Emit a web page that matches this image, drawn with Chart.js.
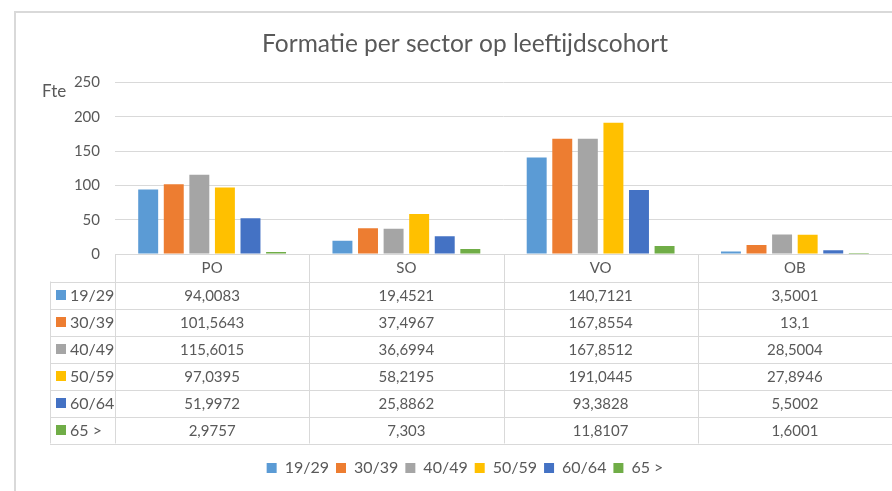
<!DOCTYPE html>
<html>
<head>
<meta charset="utf-8">
<script src="https://cdn.jsdelivr.net/npm/chart.js@4.4.1/dist/chart.umd.min.js"></script>
<style>
  html, body { margin: 0; padding: 0; background: #fff; overflow: hidden; width: 892px; height: 491px; }
  #frame { position: absolute; left: 14px; top: 11px; width: 1000px; height: 1000px;
           border-left: 2px solid #d9d9d9; border-top: 2px solid #d9d9d9; }
  #chart { position: absolute; left: 0; top: 0; }
</style>
</head>
<body>
<div id="frame"></div>
<canvas id="chart" width="892" height="491"></canvas>
<script>
const sectors = ['PO', 'SO', 'VO', 'OB'];
const cohorts = ['19/29', '30/39', '40/49', '50/59', '60/64', '65 >'];
const fte1929 = [94.0083, 19.4521, 140.7121, 3.5001];
const fte3039 = [101.5643, 37.4967, 167.8554, 13.1];
const fte4049 = [115.6015, 36.6994, 167.8512, 28.5004];
const fte5059 = [97.0395, 58.2195, 191.0445, 27.8946];
const fte6064 = [51.9972, 25.8862, 93.3828, 5.5002];
const fte65 = [2.9757, 7.303, 11.8107, 1.6001];
const yTicks = [0, 50, 100, 150, 200, 250];

const colors = ['#5B9BD5', '#ED7D31', '#A5A5A5', '#FFC000', '#4472C4', '#70AD47'];
const series = [fte1929, fte3039, fte4049, fte5059, fte6064, fte65];
const textColor = '#595959';
const lineColor = '#d9d9d9';
const fontFamily = 'Lato, "Open Sans", sans-serif';

const fmt = v => String(v).replace('.', ',');

// Excel style data table under the plot, columns taken from the x scale
const dataTable = {
  id: 'dataTable',
  afterDraw(chart) {
    const ctx = chart.ctx;
    const area = chart.chartArea;
    const x = chart.scales.x;
    const colW = (area.right - area.left) / sectors.length;
    const headTop = area.bottom;
    const rowsTop = headTop + 27.5;
    const rowH = 27;
    const tableLeft = 50;
    const tableBottom = rowsTop + rowH * cohorts.length;

    ctx.save();
    ctx.strokeStyle = lineColor;
    ctx.lineWidth = 1;
    ctx.beginPath();
    // vertical column lines
    for (let i = 0; i <= sectors.length; i++) {
      const px = Math.round(area.left + colW * i) + 0.5;
      ctx.moveTo(px, headTop);
      ctx.lineTo(px, tableBottom);
    }
    ctx.moveTo(tableLeft + 0.5, rowsTop);
    ctx.lineTo(tableLeft + 0.5, tableBottom);
    // horizontal row lines
    for (let r = 0; r <= cohorts.length; r++) {
      const py = Math.round(rowsTop + rowH * r) + 0.5;
      ctx.moveTo(tableLeft, py);
      ctx.lineTo(area.right, py);
    }
    ctx.stroke();

    ctx.fillStyle = textColor;
    ctx.font = '15px ' + fontFamily;
    ctx.textBaseline = 'middle';
    ctx.textAlign = 'center';
    sectors.forEach((s, i) => {
      ctx.fillText(s, x.getPixelForValue(i), headTop + 14);
    });
    cohorts.forEach((c, r) => {
      const cy = rowsTop + rowH * r + rowH / 2;
      ctx.fillStyle = colors[r];
      ctx.fillRect(56, Math.round(cy - 5), 10, 10);
      ctx.fillStyle = textColor;
      ctx.textAlign = 'left';
      ctx.font = '16px ' + fontFamily;
      ctx.fillText(c, 70, cy + 1);
      ctx.textAlign = 'center';
      ctx.font = '15px ' + fontFamily;
      series[r].forEach((v, i) => {
        ctx.fillText(fmt(v), x.getPixelForValue(i), cy + 1);
      });
    });

    // y axis title
    ctx.textAlign = 'left';
    ctx.font = '17px ' + fontFamily;
    ctx.fillText('Fte', 42, 92);
    ctx.restore();
  }
};

new Chart(document.getElementById('chart'), {
  type: 'bar',
  data: {
    labels: sectors,
    datasets: cohorts.map((c, i) => ({
      label: c,
      data: series[i],
      backgroundColor: colors[i],
      borderWidth: 0,
      categoryPercentage: 0.79,
      barPercentage: 0.78
    }))
  },
  options: {
    responsive: false,
    animation: false,
    // left padding keeps title and legend centred on the (wider) chart frame
    layout: { padding: { top: 0, right: 0, bottom: 5, left: 38 } },
    plugins: {
      title: {
        display: true,
        text: 'Formatie per sector op leeftijdscohort',
        color: textColor,
        font: { family: fontFamily, size: 24.5, weight: 'normal' },
        padding: { top: 29, bottom: 24 }
      },
      legend: {
        position: 'bottom',
        labels: {
          color: textColor,
          boxWidth: 10,
          boxHeight: 10,
          padding: 7,
          font: { family: fontFamily, size: 16 }
        }
      },
      tooltip: { enabled: false }
    },
    scales: {
      x: {
        grid: { display: false },
        border: { display: true, color: lineColor },
        ticks: { display: false },
        afterFit(scale) { scale.height = 199; }
      },
      y: {
        min: 0,
        max: 250,
        afterBuildTicks(scale) { scale.ticks = yTicks.map(v => ({ value: v })); },
        grid: { color: lineColor, drawTicks: false },
        border: { display: false },
        ticks: {
          color: textColor,
          padding: 15,
          font: { family: fontFamily, size: 15 }
        },
        afterFit(scale) { scale.width = 77; }
      }
    }
  },
  plugins: [dataTable]
});
</script>
</body>
</html>
